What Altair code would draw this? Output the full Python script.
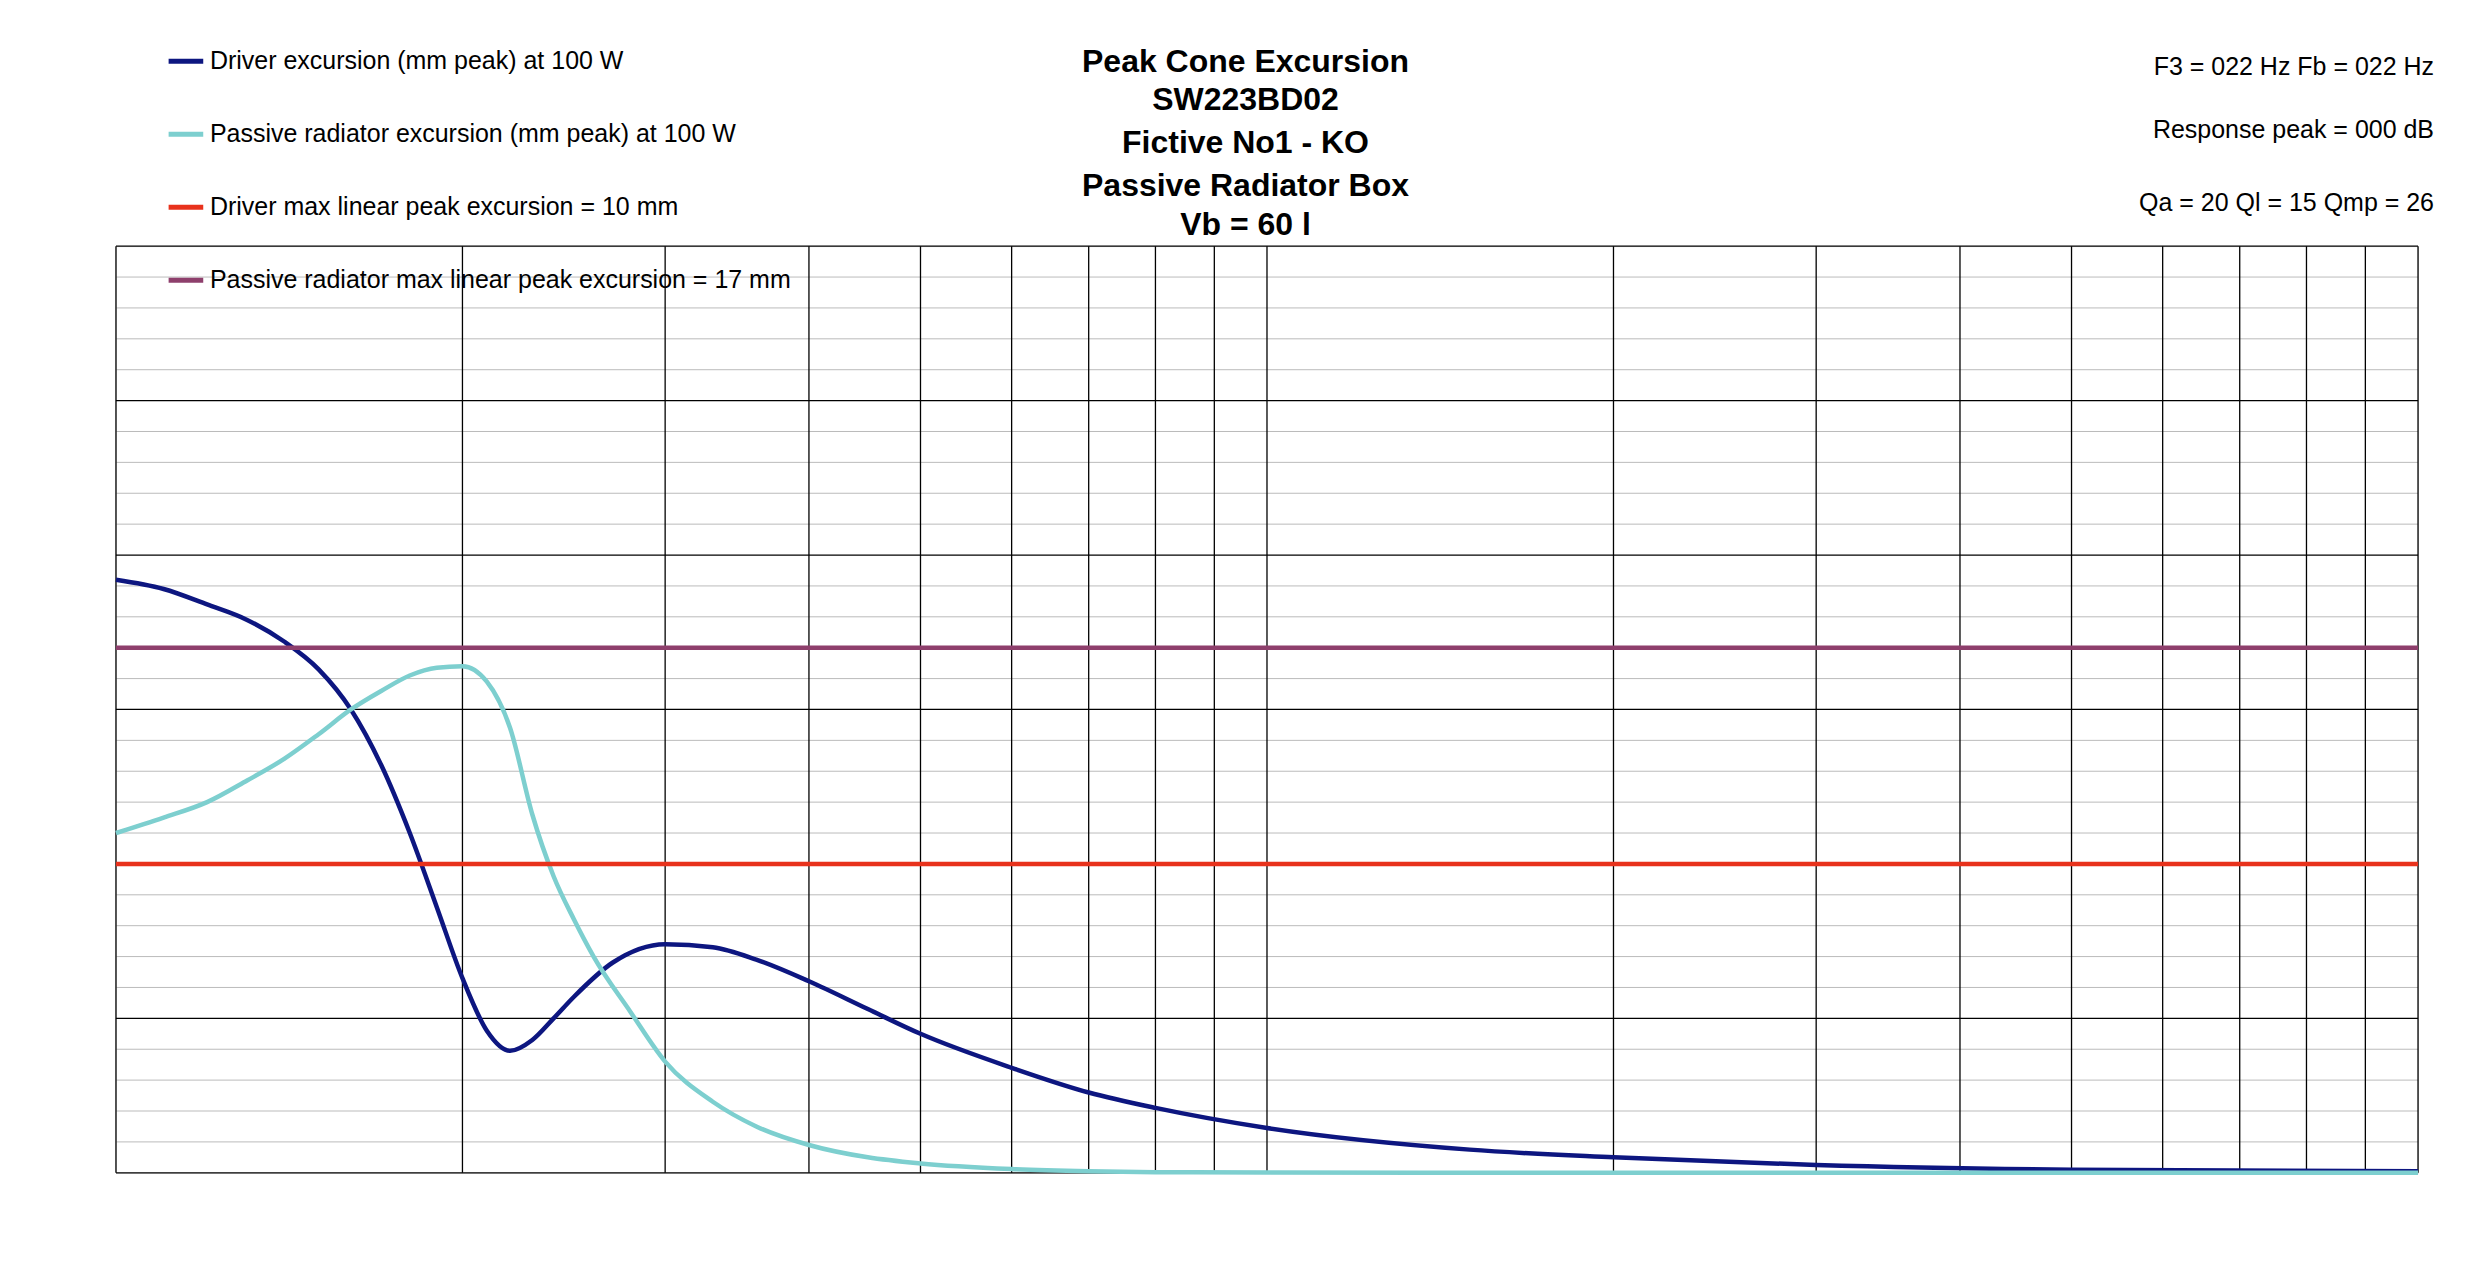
import altair as alt
import pandas as pd

drv_f = [10, 11, 12, 13, 14, 15, 16, 17, 18, 19, 20, 21, 22, 23, 24, 25, 27, 30, 33, 36, 40, 45, 50, 60, 70, 80, 100, 150, 200, 300, 500, 1000]
drv_v = [19.2, 18.9, 18.4, 17.9, 17.2, 16.3, 15.0, 13.2, 11.0, 8.6, 6.3, 4.6, 3.95, 4.3, 5.0, 5.7, 6.8, 7.4, 7.3, 6.9, 6.2, 5.3, 4.5, 3.4, 2.6, 2.1, 1.45, 0.75, 0.5, 0.25, 0.1, 0.05]
pas_f = [10, 11, 12, 13, 14, 15, 16, 17, 18, 19, 20, 21, 22, 23, 24, 25, 26, 28, 30, 33, 36, 40, 45, 50, 60, 70, 80, 100, 200, 1000]
pas_v = [11.0, 11.5, 12.0, 12.7, 13.4, 14.2, 15.0, 15.6, 16.1, 16.35, 16.4, 15.9, 14.4, 11.6, 9.6, 8.2, 7.0, 5.2, 3.6, 2.3, 1.5, 0.9, 0.5, 0.3, 0.12, 0.05, 0.02, 0.01, 0.0, 0.0]
names = ["Driver excursion (mm peak) at 100 W",
         "Passive radiator excursion (mm peak) at 100 W",
         "Driver max linear peak excursion = 10 mm",
         "Passive radiator max linear peak excursion = 17 mm"]
colors = ["#0D1680", "#7DCFCF", "#E8321C", "#8E3F6C"]
x_major = [10, 20, 30, 40, 50, 60, 70, 80, 90, 100, 200, 300, 400, 500, 600, 700, 800, 900, 1000]
y_major = [0, 5, 10, 15, 20, 25, 30]
y_minor = [v for v in range(31) if v % 5]
title_lines = ["Peak Cone Excursion", "SW223BD02", "Fictive No1 - KO", "Passive Radiator Box", "Vb = 60 l"]
info_lines = ["F3 = 022 Hz  Fb = 022 Hz", "Response peak = 000 dB", "Qa = 20  Ql = 15  Qmp = 26"]

rows = []
for f, v in zip(drv_f, drv_v):
    rows.append({"f": f, "v": v, "s": names[0], "o": 0})
for f, v in zip(pas_f, pas_v):
    rows.append({"f": f, "v": v, "s": names[1], "o": 1})
for f in [10, 1000]:
    rows.append({"f": f, "v": 10, "s": names[2], "o": 2})
    rows.append({"f": f, "v": 17, "s": names[3], "o": 3})
df = pd.DataFrame(rows)

W, H = 2303, 927
xs = alt.Scale(type="log", domain=[10, 1000], nice=False)
ys = alt.Scale(domain=[0, 30], nice=False)

minor = alt.Chart(pd.DataFrame({"y": y_minor})).mark_rule(color="#BBBBBB", strokeWidth=1).encode(
    y=alt.Y("y:Q", scale=ys, axis=None))
ymaj = alt.Chart(pd.DataFrame({"y": y_major})).mark_rule(color="black", strokeWidth=1.3).encode(
    y=alt.Y("y:Q", scale=ys, axis=None))
xmaj = alt.Chart(pd.DataFrame({"x": x_major})).mark_rule(color="black", strokeWidth=1.3).encode(
    x=alt.X("x:Q", scale=xs, axis=None))

lines = alt.Chart(df).mark_line(strokeWidth=4.5, interpolate="monotone").encode(
    x=alt.X("f:Q", scale=xs, title="Frequency, Hz",
            axis=alt.Axis(values=[10, 100, 1000], format=".1f", grid=False, labelFontSize=22,
                          titleFontSize=27, titleFontWeight="bold", titleColor="black", labelColor="black",
                          domainColor="black", tickColor="black", titlePadding=14, labelPadding=6,
                          labelFont="Liberation Sans", titleFont="Liberation Sans")),
    y=alt.Y("v:Q", scale=ys, title=None,
            axis=alt.Axis(values=y_major, format=".2f", grid=False, labelFontSize=22, labelColor="black",
                          domainColor="black", tickColor="black", labelFont="Liberation Sans")),
    color=alt.Color("s:N", scale=alt.Scale(domain=names, range=colors), sort=names,
                    legend=alt.Legend(title=None, orient="none", legendX=50, legendY=-205,
                                      symbolType="stroke", symbolStrokeWidth=5, symbolSize=1200,
                                      labelFontSize=25, labelFont="Liberation Sans", labelColor="black",
                                      rowPadding=40, labelLimit=1000, labelOffset=4)),
    order="o:Q", detail="s:N")

layers = [minor, ymaj, xmaj, lines]
title_y = [-184, -146, -103, -60, -21]
for t, yy in zip(title_lines, title_y):
    layers.append(alt.Chart(pd.DataFrame({"t": [t]})).mark_text(
        fontSize=32, fontWeight="bold", font="Liberation Sans", align="center", baseline="middle",
        color="black").encode(text="t:N", x=alt.value(1130), y=alt.value(yy)))
info_y = [-179, -116, -43]
for t, yy in zip(info_lines, info_y):
    layers.append(alt.Chart(pd.DataFrame({"t": [t]})).mark_text(
        fontSize=25, font="Liberation Sans", align="right", baseline="middle",
        color="black").encode(text="t:N", x=alt.value(2319), y=alt.value(yy)))

chart = alt.layer(*layers).properties(
    width=W, height=H, autosize=alt.AutoSizeParams(type="none"),
    padding={"left": 108, "top": 238, "right": 60, "bottom": 100}
).configure_view(stroke="black", strokeWidth=1.3).configure(background="white")

chart.save("out.html", embed_options={"renderer": "svg", "actions": False})
